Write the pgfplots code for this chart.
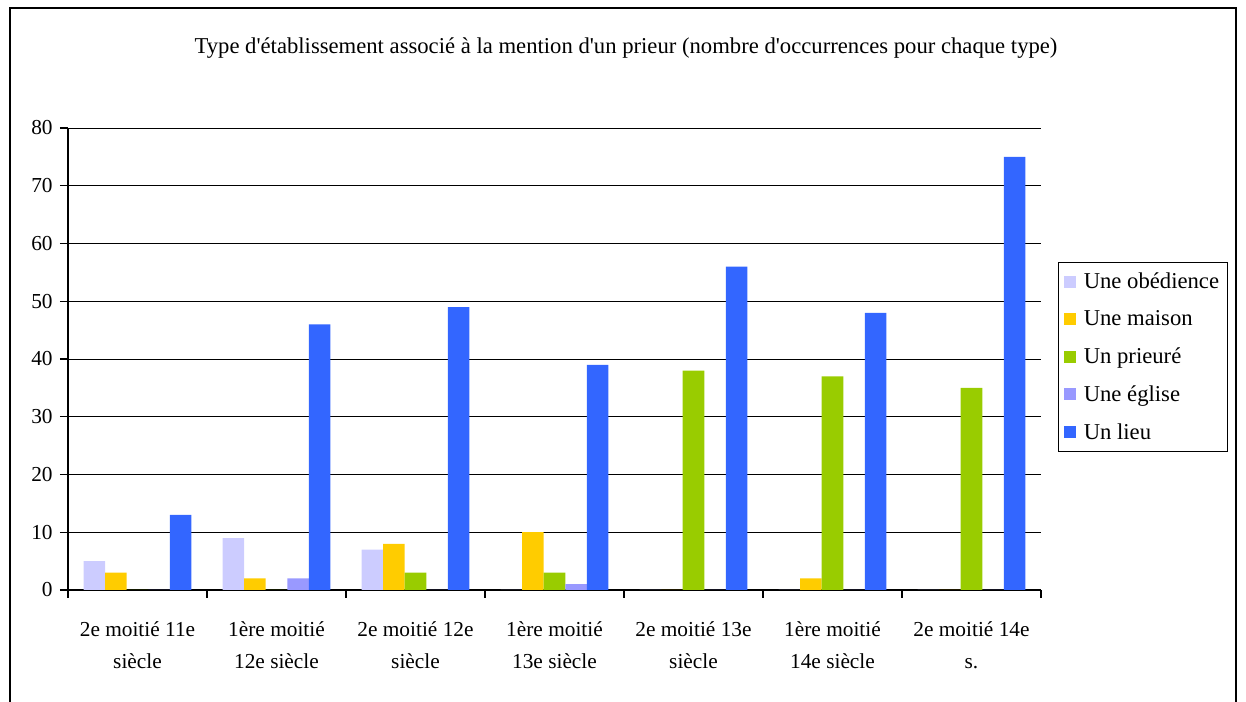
\documentclass[border=0pt]{standalone}
\usepackage{pgfplots}
\pgfplotsset{compat=1.18}
\usepackage{fontspec}
\setmainfont{Liberation Serif}
\definecolor{cobed}{HTML}{CCCCFF}
\definecolor{cmais}{HTML}{FFCC00}
\definecolor{cprie}{HTML}{99CC00}
\definecolor{cegl}{HTML}{9999FF}
\definecolor{clieu}{HTML}{3366FF}
\begin{document}
\begin{tikzpicture}[x=0.75pt,y=0.75pt]
\useasboundingbox (0,0) rectangle (1246,702);
\draw[line width=1.4pt] (10,0) -- (10,694) -- (1236,694) -- (1236,0);
\node[font=\fontsize{17}{20}\selectfont] at (626,654) {Type d\textquotesingle établissement associé à la mention d\textquotesingle un prieur (nombre d\textquotesingle occurrences pour chaque type)};
\begin{axis}[
  at={(51pt,84pt)}, anchor=south west,
  scale only axis, width=729.75pt, height=346.5pt,
  ybar=0pt, bar width=0.155,
  xmin=-0.5, xmax=6.5, ymin=0, ymax=80,
  ytick={0,10,...,80},
  xtick={0,...,6},
  xticklabels={2e moitié 11e\\siècle,1ère moitié\\12e siècle,2e moitié 12e\\siècle,1ère moitié\\13e siècle,2e moitié 13e\\siècle,1ère moitié\\14e siècle,2e moitié 14e\\s.},
  minor xtick={-0.5,0.5,...,6.5},
  major x tick style={draw=none},
  minor tick length=6pt, major tick length=6pt,
  tick align=outside,
  axis x line*=bottom, axis y line*=left,
  axis line style={black, line width=0.8pt},
  tick style={black, line width=0.8pt},
  ymajorgrids, grid style={black, line width=0.6pt},
  /pgf/number format/assume math mode=true,
  ticklabel style={font=\fontsize{16}{24}\selectfont},
  xticklabel style={align=center, yshift=-14pt},
  yticklabel style={xshift=-2pt},
  legend style={at={(1.0175,0.71)}, anchor=north west, draw=black, line width=0.6pt,
    font=\fontsize{17}{20}\selectfont, row sep=11pt, inner xsep=4pt, inner ysep=6pt,
    cells={anchor=west}, /tikz/every odd column/.append style={column sep=4pt}},
  legend image code/.code={\fill[#1] (2pt,-4.5pt) rectangle (11pt,4.5pt);},
  every axis plot/.append style={draw=none},
]
\addplot[fill=cobed] coordinates {(0,5) (1,9) (2,7) (3,0) (4,0) (5,0) (6,0)};
\addplot[fill=cmais] coordinates {(0,3) (1,2) (2,8) (3,10) (4,0) (5,2) (6,0)};
\addplot[fill=cprie] coordinates {(0,0) (1,0) (2,3) (3,3) (4,38) (5,37) (6,35)};
\addplot[fill=cegl] coordinates {(0,0) (1,2) (2,0) (3,1) (4,0) (5,0) (6,0)};
\addplot[fill=clieu] coordinates {(0,13) (1,46) (2,49) (3,39) (4,56) (5,48) (6,75)};
\legend{Une obédience,Une maison,Un prieuré,Une église,Un lieu}
\end{axis}
\end{tikzpicture}
\end{document}
